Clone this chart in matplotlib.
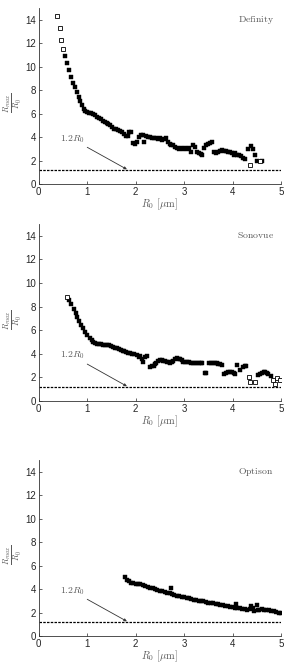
import matplotlib
matplotlib.use("Agg")
import matplotlib.pyplot as plt

plt.rcParams['mathtext.fontset'] = 'cm'
plt.rcParams['font.family'] = ['Liberation Sans', 'DejaVu Sans']

# ---------------- data ----------------
definity_open_x = [0.38, 0.43, 0.47, 0.51, 4.35, 4.56]
definity_open_y = [14.3, 13.3, 12.3, 11.5, 1.6, 1.95]
definity_x = [0.55, 0.59, 0.63, 0.67, 0.71, 0.75, 0.79, 0.83, 0.86, 0.89,
              0.93, 0.96, 1.00, 1.04, 1.08, 1.12, 1.16, 1.20, 1.24, 1.28,
              1.32, 1.36, 1.40, 1.44, 1.48, 1.52, 1.56, 1.60, 1.64, 1.68,
              1.72, 1.76, 1.80, 1.84, 1.87, 1.91, 1.95, 1.99, 2.03, 2.07,
              2.11, 2.15, 2.18, 2.22, 2.26, 2.30, 2.34, 2.38, 2.42, 2.46,
              2.50, 2.54, 2.58, 2.62, 2.66, 2.70, 2.74, 2.78, 2.82, 2.86,
              2.90, 2.94, 2.98, 3.02, 3.06, 3.10, 3.14, 3.18, 3.22, 3.26,
              3.30, 3.34, 3.38, 3.42, 3.46, 3.50, 3.54, 3.58, 3.62, 3.66,
              3.70, 3.74, 3.78, 3.82, 3.86, 3.90, 3.94, 3.98, 4.02, 4.06,
              4.10, 4.14, 4.18, 4.22, 4.26, 4.31, 4.38, 4.42, 4.46, 4.50,
              4.60]
definity_y = [10.9, 10.3, 9.7, 9.1, 8.65, 8.25, 7.85, 7.45, 7.05, 6.7,
              6.4, 6.25, 6.1, 6.05, 6.05, 6.0, 5.9, 5.75, 5.6, 5.5,
              5.35, 5.3, 5.2, 5.1, 5.0, 4.85, 4.7, 4.65, 4.6, 4.5,
              4.4, 4.3, 4.1, 4.05, 4.4, 4.45, 3.5, 3.45, 3.55, 4.0,
              4.15, 4.2, 3.6, 4.05, 4.0, 4.0, 3.95, 3.9, 3.95, 3.8,
              3.9, 3.75, 3.8, 3.95, 3.6, 3.45, 3.35, 3.3, 3.15, 3.05,
              2.95, 3.1, 3.0, 3.1, 2.95, 3.05, 2.7, 3.3, 3.15, 2.7,
              2.6, 2.55, 2.45, 3.05, 3.3, 3.45, 3.5, 3.55, 2.7, 2.65,
              2.75, 2.8, 2.9, 2.85, 2.8, 2.7, 2.75, 2.6, 2.5, 2.6,
              2.45, 2.5, 2.35, 2.2, 2.1, 2.95, 3.2, 2.95, 2.45, 2.0,
              1.95]

sonovue_open_x = [0.59, 4.33, 4.37, 4.46, 4.83, 4.88, 4.91, 4.98]
sonovue_open_y = [8.85, 2.06, 1.64, 1.58, 1.78, 1.41, 1.92, 1.78]
sonovue_x = [0.63, 0.67, 0.72, 0.76, 0.80, 0.84, 0.88, 0.92, 0.96, 1.00,
             1.05, 1.09, 1.13, 1.17, 1.21, 1.25, 1.29, 1.33, 1.37, 1.41,
             1.45, 1.49, 1.53, 1.57, 1.61, 1.65, 1.69, 1.73, 1.77, 1.81,
             1.85, 1.89, 1.93, 1.97, 2.02, 2.06, 2.10, 2.13, 2.16, 2.20,
             2.24, 2.30, 2.34, 2.37, 2.40, 2.43, 2.47, 2.50, 2.54, 2.57,
             2.61, 2.64, 2.68, 2.71, 2.75, 2.78, 2.82, 2.85, 2.89, 2.92,
             2.95, 2.98, 3.02, 3.06, 3.10, 3.14, 3.18, 3.22, 3.26, 3.30,
             3.34, 3.38, 3.43, 3.46, 3.51, 3.55, 3.59, 3.63, 3.67, 3.71,
             3.75, 3.78, 3.82, 3.86, 3.90, 3.94, 3.98, 4.02, 4.06, 4.09,
             4.15, 4.21, 4.25, 4.28, 4.53, 4.57, 4.60, 4.64, 4.67, 4.71,
             4.74, 4.79]
sonovue_y = [8.57, 8.2, 7.8, 7.44, 7.1, 6.79, 6.45, 6.17, 5.88, 5.6,
             5.37, 5.18, 5.0, 4.89, 4.85, 4.8, 4.8, 4.78, 4.75, 4.75,
             4.72, 4.65, 4.58, 4.52, 4.45, 4.4, 4.33, 4.27, 4.2, 4.15,
             4.1, 4.05, 4.0, 3.95, 3.9, 3.7, 3.8, 3.54, 3.28, 3.76,
             3.82, 2.9, 2.95, 3.0, 3.1, 3.2, 3.35, 3.48, 3.45, 3.4,
             3.35, 3.34, 3.28, 3.2, 3.3, 3.42, 3.55, 3.62, 3.58, 3.54,
             3.45, 3.34, 3.3, 3.28, 3.3, 3.25, 3.25, 3.2, 3.22, 3.2,
             3.2, 3.2, 2.35, 2.35, 3.2, 3.22, 3.2, 3.2, 3.18, 3.15,
             3.1, 3.05, 2.3, 2.4, 2.5, 2.45, 2.5, 2.4, 2.3, 3.05,
             2.63, 2.9, 3.0, 2.95, 2.2, 2.3, 2.35, 2.49, 2.42, 2.35,
             2.3, 2.15]

optison_x = [1.78, 1.82, 1.86, 1.90, 1.95, 2.00, 2.05, 2.10, 2.15, 2.20,
             2.25, 2.30, 2.35, 2.40, 2.45, 2.50, 2.55, 2.60, 2.65, 2.70,
             2.72, 2.75, 2.80, 2.85, 2.90, 2.95, 3.00, 3.05, 3.10, 3.15,
             3.20, 3.25, 3.30, 3.35, 3.40, 3.45, 3.50, 3.55, 3.60, 3.65,
             3.70, 3.75, 3.80, 3.85, 3.90, 3.95, 4.00, 4.05, 4.07, 4.10,
             4.15, 4.20, 4.25, 4.30, 4.35, 4.38, 4.42, 4.45, 4.50, 4.52,
             4.55, 4.60, 4.65, 4.70, 4.75, 4.80, 4.85, 4.90, 4.95, 5.00]
optison_y = [5.0, 4.8, 4.65, 4.55, 4.5, 4.45, 4.4, 4.4, 4.35, 4.3,
             4.2, 4.1, 4.05, 4.0, 3.95, 3.85, 3.8, 3.75, 3.7, 3.65,
             4.1, 3.55, 3.5, 3.45, 3.4, 3.35, 3.3, 3.25, 3.2, 3.15,
             3.1, 3.05, 3.0, 2.95, 2.95, 2.9, 2.85, 2.8, 2.8, 2.75,
             2.7, 2.65, 2.6, 2.55, 2.55, 2.5, 2.45, 2.4, 2.7, 2.4,
             2.35, 2.3, 2.3, 2.25, 2.3, 2.55, 2.35, 2.15, 2.6, 2.2,
             2.25, 2.3, 2.25, 2.2, 2.2, 2.15, 2.1, 2.05, 2.0, 1.95]

panel_names = ['Definity', 'Sonovue', 'Optison']
threshold = 1.2
x_ticks = [0, 1, 2, 3, 4, 5]
y_ticks = [0, 2, 4, 6, 8, 10, 12, 14]

panels = [
    (definity_x, definity_y, definity_open_x, definity_open_y),
    (sonovue_x, sonovue_y, sonovue_open_x, sonovue_open_y),
    (optison_x, optison_y, [], []),
]

# ---------------- figure ----------------
W, H = 286, 671
fig = plt.figure(figsize=(W / 100, H / 100), dpi=100)
left = 38.7 / W
width = (281 - 38.7) / W
bottoms_px = [184, 401, 636]
tops_px = [8, 224, 460]
grey = '0.35'

for i, (name, (fx, fy, ox, oy)) in enumerate(zip(panel_names, panels)):
    b = (H - bottoms_px[i]) / H
    h = (bottoms_px[i] - tops_px[i]) / H
    ax = fig.add_axes([left, b, width, h])
    ax.plot(fx, fy, ls='none', marker='s', ms=2.6, mfc='black', mec='black', mew=0.3)
    if ox:
        ax.plot(ox, oy, ls='none', marker='s', ms=2.6, mfc='white', mec='black', mew=0.6)
    ax.axhline(threshold, color='black', ls=(0, (2.0, 1.0)), lw=0.9)
    ax.set_xlim(0, 5)
    ax.set_ylim(0, 15)
    ax.set_xticks(x_ticks)
    ax.set_yticks(y_ticks)
    ax.spines['top'].set_visible(False)
    ax.spines['right'].set_visible(False)
    for s in ('left', 'bottom'):
        ax.spines[s].set_linewidth(0.6)
        ax.spines[s].set_color('0.2')
    ax.tick_params(direction='in', length=2, width=0.5, labelsize=7, pad=2,
                   colors='0.15')
    ax.set_xlabel(r'$R_0\ [\mu\mathrm{m}]$', fontsize=7.5, color=grey, labelpad=0)
    ax.set_ylabel(r'$\frac{R_{max}}{R_0}$', fontsize=8.5, color=grey)
    ax.yaxis.set_label_coords(-0.06, 0.46)
    ax.text(0.97, 0.965, r'$\mathrm{%s}$' % name, transform=ax.transAxes,
            ha='right', va='top', fontsize=7, color=grey)
    ax.annotate(r'$1.2R_0$', xy=(1.82, threshold + 0.05), xytext=(0.43, 3.85),
                fontsize=7, color=grey, ha='left', va='center',
                arrowprops=dict(arrowstyle='-|>', lw=0.6, color='0.2',
                                mutation_scale=4, shrinkA=0, shrinkB=0))

fig.savefig('out.png', dpi=100)
